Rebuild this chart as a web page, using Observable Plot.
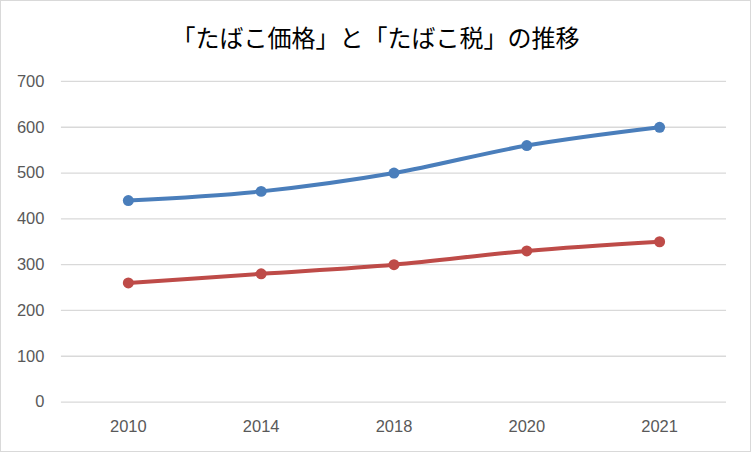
<!DOCTYPE html>
<html>
<head>
<meta charset="utf-8">
<script src="https://cdn.jsdelivr.net/npm/d3@7"></script>
<script src="https://cdn.jsdelivr.net/npm/@observablehq/plot@0.6"></script>
<style>
  body { margin: 0; background: #fff; }
  #chart { position: relative; width: 751px; height: 452px; box-sizing: border-box; border: 1px solid #d9d9d9; background: #fff; overflow: hidden; }
  #title { position: absolute; left: 0; top: 18px; width: 749px; text-align: center; font-family: "Noto Sans CJK JP", sans-serif; font-size: 24px; line-height: 36px; color: #000; }
  #plot { position: absolute; left: -1px; top: 59px; }
</style>
</head>
<body>
<div id="chart">
  <div id="title">「たばこ価格」と「たばこ税」の推移</div>
  <div id="plot"></div>
</div>
<script>
const years = ["2010", "2014", "2018", "2020", "2021"];
const price = [440, 460, 500, 560, 600];
const tax = [260, 280, 300, 330, 350];
const yTicks = [0, 100, 200, 300, 400, 500, 600, 700];
const seriesNames = ["たばこ価格", "たばこ税"];
const seriesColors = ["#4a7ebb", "#be4b48"];

const data = [
  ...years.map((y, i) => ({year: y, value: price[i], series: seriesNames[0]})),
  ...years.map((y, i) => ({year: y, value: tax[i], series: seriesNames[1]}))
];

const chart = Plot.plot({
  width: 751,
  height: 393,
  marginTop: 21,
  marginBottom: 51,
  marginLeft: 61,
  marginRight: 24,
  style: { fontFamily: "'Liberation Sans', sans-serif", fontSize: "16.5px", color: "#595959", background: "transparent" },
  x: { type: "point", domain: years, padding: 0.5, label: null, tickSize: 0, tickPadding: 18 },
  y: { domain: [0, 700], ticks: yTicks, label: null, tickSize: 0, tickPadding: 17 },
  color: { domain: seriesNames, range: seriesColors },
  marks: [
    Plot.ruleY(yTicks, { stroke: "#d9d9d9", strokeWidth: 1.3 }),
    Plot.axisY({ ticks: yTicks, tickSize: 0, tickPadding: 17, label: null, fill: "#595959" }),
    Plot.axisX({ tickSize: 0, tickPadding: 18, label: null, fill: "#595959" }),
    Plot.line(data, { x: "year", y: "value", z: "series", stroke: "series", strokeWidth: 4, curve: "monotone-x" }),
    Plot.dot(data, { x: "year", y: "value", fill: "series", r: 5.5 })
  ]
});
document.getElementById("plot").appendChild(chart);
</script>
</body>
</html>
